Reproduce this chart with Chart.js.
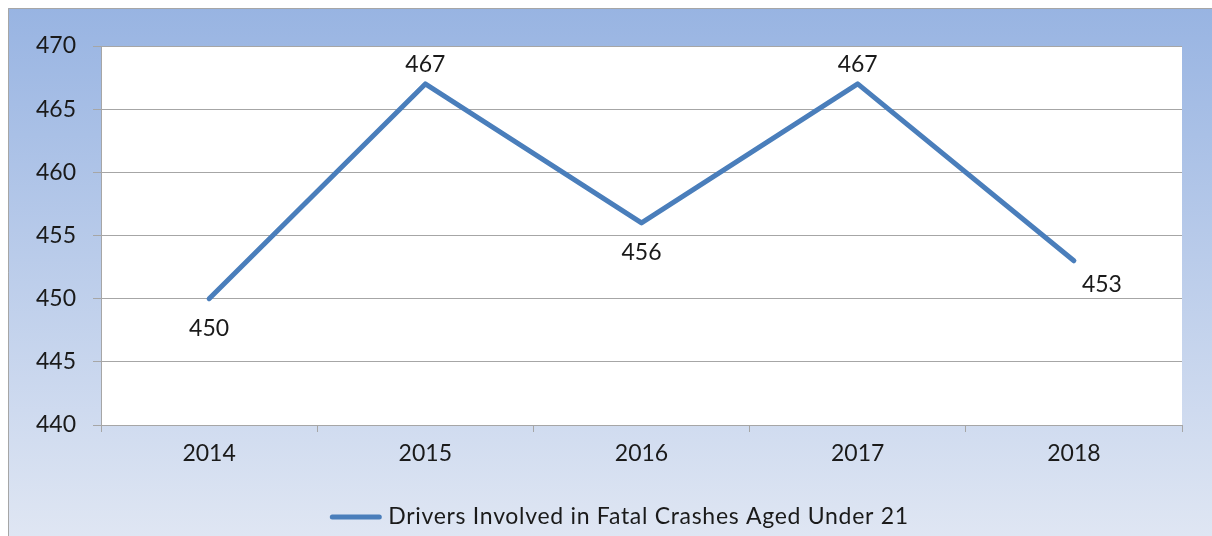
<!DOCTYPE html>
<html>
<head>
<meta charset="utf-8">
<script src="https://cdn.jsdelivr.net/npm/chart.js@4"></script>
<style>
  html, body { margin: 0; padding: 0; background: #fff; }
  #wrap { position: absolute; left: 0; top: 0; width: 1212px; height: 536px; }
</style>
</head>
<body>
<div id="wrap"><canvas id="chart" width="1212" height="536"></canvas></div>
<script>
const years = ['2014', '2015', '2016', '2017', '2018']
const drivers = [450, 467, 456, 467, 453]
const seriesName = 'Drivers Involved in Fatal Crashes Aged Under 21'
const yTicks = [440, 445, 450, 455, 460, 465, 470]

const lineColor = '#4A7EBB'
const font = { family: 'Lato', size: 23 }

// frame, gradient and white plot area
const backdrop = {
  id: 'backdrop',
  beforeDraw(chart) {
    const { ctx, chartArea: a } = chart
    ctx.save()
    ctx.fillStyle = '#fff'
    ctx.fillRect(0, 0, chart.width, chart.height)
    const g = ctx.createLinearGradient(0, 8, 0, chart.height)
    g.addColorStop(0, '#98B4E2')
    g.addColorStop(1, '#DFE6F3')
    ctx.fillStyle = g
    ctx.fillRect(8, 8, chart.width - 8, chart.height - 8)
    ctx.strokeStyle = '#A6A6A6'
    ctx.lineWidth = 1
    ctx.beginPath()
    ctx.moveTo(8.5, chart.height)
    ctx.lineTo(8.5, 8.5)
    ctx.lineTo(chart.width, 8.5)
    ctx.stroke()
    ctx.fillStyle = '#fff'
    ctx.fillRect(a.left, a.top, a.right - a.left, a.bottom - a.top)
    ctx.restore()
  }
}

// value labels next to each point
const valueLabels = {
  id: 'valueLabels',
  afterDatasetsDraw(chart) {
    const { ctx } = chart
    const pts = chart.getDatasetMeta(0).data
    const vals = chart.data.datasets[0].data
    ctx.save()
    ctx.font = font.size + 'px ' + font.family
    ctx.fillStyle = '#1a1a1a'
    ctx.textAlign = 'center'
    ctx.textBaseline = 'middle'
    pts.forEach((p, i) => {
      const prev = vals[i - 1], next = vals[i + 1]
      const isPeak = (prev === undefined || vals[i] > prev) && (next === undefined || vals[i] > next)
      let x = p.x, y = p.y
      if (i === pts.length - 1) { x += 28; y += 24 }
      else if (isPeak) { y -= 19 }
      else { y += 30 }
      ctx.fillText(String(vals[i]), x, y)
    })
    ctx.restore()
  }
}

// legend drawn under the axis
const lineLegend = {
  id: 'lineLegend',
  afterDraw(chart) {
    const { ctx } = chart
    const ds = chart.data.datasets[0]
    ctx.save()
    ctx.font = font.size + 'px ' + font.family
    ctx.letterSpacing = '0.7px'
    const tw = ctx.measureText(ds.label).width
    const sample = 53, gap = 6
    const total = sample + gap + tw
    const x0 = 619 - total / 2
    const y = 517
    ctx.strokeStyle = ds.borderColor
    ctx.lineWidth = 5
    ctx.lineCap = 'round'
    ctx.beginPath()
    ctx.moveTo(x0 + 3, y)
    ctx.lineTo(x0 + sample - 3, y)
    ctx.stroke()
    ctx.fillStyle = '#1a1a1a'
    ctx.textBaseline = 'middle'
    ctx.fillText(ds.label, x0 + sample + gap, y)
    ctx.restore()
  }
}

new Chart(document.getElementById('chart'), {
  type: 'line',
  data: {
    labels: years,
    datasets: [{
      label: seriesName,
      data: drivers,
      borderColor: lineColor,
      backgroundColor: lineColor,
      borderWidth: 5,
      borderCapStyle: 'round',
      borderJoinStyle: 'round',
      pointRadius: 0,
      tension: 0
    }]
  },
  options: {
    responsive: false,
    animation: false,
    layout: { padding: { top: 46, right: 30, left: 0, bottom: 0 } },
    plugins: { legend: { display: false }, tooltip: { enabled: false } },
    scales: {
      x: {
        offset: true,
        grid: { offset: true, drawOnChartArea: false, color: '#A6A6A6', tickLength: 7 },
        border: { color: '#A6A6A6' },
        ticks: { color: '#1a1a1a', font: font, padding: 8 },
        afterFit(scale) { scale.height = 111 }
      },
      y: {
        min: 440,
        max: 470,
        afterBuildTicks(scale) { scale.ticks = yTicks.map(v => ({ value: v })) },
        grid: { color: '#A6A6A6', tickLength: 8 },
        border: { color: '#A6A6A6' },
        ticks: { color: '#1a1a1a', font: font, padding: 17 },
        afterFit(scale) { scale.width = 101 }
      }
    }
  },
  plugins: [backdrop, valueLabels, lineLegend]
})
</script>
</body>
</html>
